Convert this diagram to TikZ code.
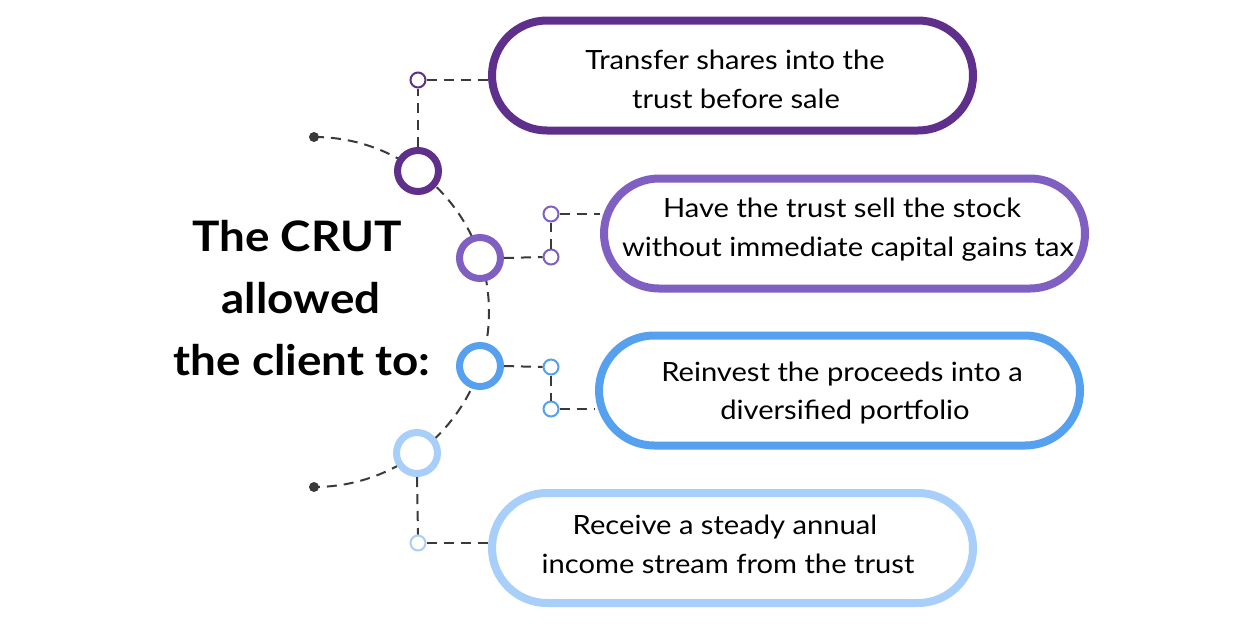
\documentclass[tikz,border=0pt]{standalone}
\usepackage{fontspec}
\setmainfont{Lato}
\newfontfamily\bodyfont{Lato}[FakeStretch=1.1]
\newfontfamily\headfont{Lato}[FakeStretch=1.09]
\definecolor{colA}{HTML}{5F2F8C}
\definecolor{colB}{HTML}{7F5FC1}
\definecolor{colC}{HTML}{56A0F0}
\definecolor{colD}{HTML}{A7CFFA}
\definecolor{dashgray}{HTML}{3A3A3A}
\begin{document}
\begin{tikzpicture}[x=1pt,y=-1pt,
  pill/.style={draw=#1, line width=8pt, rounded corners=55pt, minimum width=481pt, minimum height=110pt, fill=white, inner sep=0pt},
  bodytext/.style={anchor=base, inner sep=0pt, font=\bodyfont\fontsize{26.5}{39}\selectfont, text=black},
  bigring/.style={circle, draw=#1, line width=7pt, minimum size=41pt, inner sep=0pt, fill=white},
  smallring/.style={circle, draw=#1, line width=2pt, minimum size=15pt, inner sep=0pt, fill=white},
  dotnode/.style={circle, fill=dashgray, minimum size=10pt, inner sep=0pt},
  conn/.style={draw=dashgray, line width=2pt, dash pattern=on 10pt off 7pt},
  title/.style={anchor=base, inner sep=0pt, font=\headfont\bfseries\fontsize{42}{62}\selectfont, text=black}
]
\fill[white] (0,0) rectangle (1250,625);
\useasboundingbox (0,0) rectangle (1250,625);

% arc guide
\node[dotnode] (dtop) at (314,137) {};
\node[dotnode] (dbot) at (314,487) {};
\draw[conn] (dtop.center) arc[start angle=90, end angle=-90, radius=175pt];

% title
\node[title] (ttl1) at (297,251) {The CRUT};
\node[title] (ttl2) at (301,313) {allowed};
\node[title] (ttl3) at (302,375) {the client to:};

% pills
\node[pill=colA] (p1) at (732.5,75.5) {};
\node[pill=colB] (p2) at (844.5,233.5) {};
\node[pill=colC] (p3) at (839.5,390.5) {};
\node[pill=colD] (p4) at (732.5,548) {};

% pill texts
\node[bodytext] (t1a) at (735,69) {Transfer shares into the};
\node[bodytext] (t1b) at (736,108) {trust before sale};
\node[bodytext] (t2a) at (842,217) {Have the trust sell the stock};
\node[bodytext] (t2b) at (848,256) {without immediate capital gains tax};
\node[bodytext] (t3a) at (842,381) {Reinvest the proceeds into a};
\node[bodytext] (t3b) at (845,419) {diversified portfolio};
\node[bodytext] (t4a) at (725,534) {Receive a steady annual};
\node[bodytext] (t4b) at (728,573) {income stream from the trust};

% big rings
\node[bigring=colA] (c1) at (418,171) {};
\node[bigring=colB] (c2) at (480,258) {};
\node[bigring=colC] (c3) at (480,366) {};
\node[bigring=colD] (c4) at (417,453) {};

% small rings
\node[smallring=colA] (s1) at (418,80) {};
\node[smallring=colB] (s2a) at (551,214) {};
\node[smallring=colB] (s2b) at (551,257) {};
\node[smallring=colC] (s3a) at (551,367) {};
\node[smallring=colC] (s3b) at (551,409) {};
\node[smallring=colD] (s4) at (418,543) {};

% connectors
\draw[conn] (c1.north) -- (s1.south);
\draw[conn] (s1.east) -- (s1.east -| p1.west);
\draw[conn] (c2.east) -- (s2b.west);
\draw[conn] (s2b.north) -- (s2a.south);
\draw[conn] (s2a.east) -- (s2a.east -| p2.west);
\draw[conn] (c3.east) -- (s3a.west);
\draw[conn] (s3a.south) -- (s3b.north);
\draw[conn] (s3b.east) -- (s3b.east -| p3.west);
\draw[conn] (c4.south) -- (s4.north);
\draw[conn] (s4.east) -- (s4.east -| p4.west);
\end{tikzpicture}
\end{document}
